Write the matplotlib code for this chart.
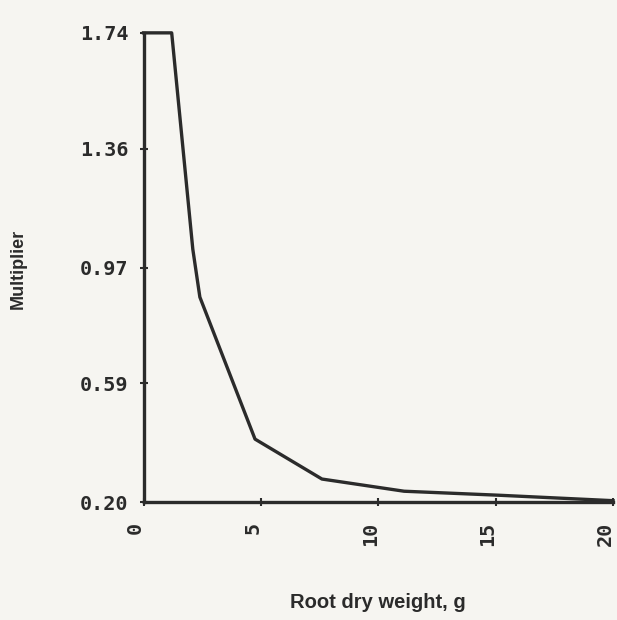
import matplotlib
matplotlib.use("Agg")
import matplotlib.pyplot as plt
import matplotlib.transforms as mtransforms

# data
root_wt = [0, 1.2, 2.1, 2.4, 4.75, 7.6, 11.1, 15.1, 20]
multiplier = [1.74, 1.74, 1.03, 0.873, 0.407, 0.276, 0.236, 0.223, 0.205]

y_ticks = [0.20, 0.59, 0.97, 1.36, 1.74]
y_labels = ["0.20", "0.59", "0.97", "1.36", "1.74"]
x_ticks = [0, 5, 10, 15, 20]
x_labels = ["0", "5", "10", "15", "20"]

bg = "#f6f5f1"
ink = "#2b2b2b"

fig = plt.figure(figsize=(6.17, 6.2), dpi=100, facecolor=bg)
ax = fig.add_axes([0.2326, 0.190, 0.7610, 0.757])
ax.set_facecolor(bg)

ax.plot(root_wt, multiplier, color=ink, lw=2.4, solid_joinstyle="round",
        clip_on=False)

ax.set_xlim(0, 20)
ax.set_ylim(0.20, 1.74)
ax.margins(0)

for s in ["top", "right"]:
    ax.spines[s].set_visible(False)
for s in ["left", "bottom"]:
    ax.spines[s].set_color(ink)
    ax.spines[s].set_linewidth(2.4)

mono = {"family": "DejaVu Sans Mono", "weight": "bold", "size": 14.5}
ax.set_yticks(y_ticks)
ax.set_yticklabels(y_labels, fontdict=mono, color=ink)
ax.set_xticks(x_ticks)
ax.set_xticklabels(x_labels, fontdict=mono, color=ink, rotation=90)
ax.tick_params(axis="both", direction="inout", length=6, width=1.5, color=ink)
ax.tick_params(axis="y", pad=8)
ax.tick_params(axis="x", pad=11)

# labels sit a bit left of their ticks in the scan
shift = mtransforms.ScaledTranslation(-8 / 100, 0, fig.dpi_scale_trans)
for lab in ax.get_xticklabels():
    lab.set_transform(lab.get_transform() + shift)

fig.text(0.030, 0.567, "Multiplier", rotation=90, ha="center", va="center",
         family="Liberation Sans", weight="bold", fontsize=13, color=ink)
fig.text(0.612, 0.028, "Root dry weight, g", ha="center", va="center",
         family="Liberation Sans", weight="bold", fontsize=14.5, color=ink)

fig.savefig("out.png", dpi=100, facecolor=bg)
